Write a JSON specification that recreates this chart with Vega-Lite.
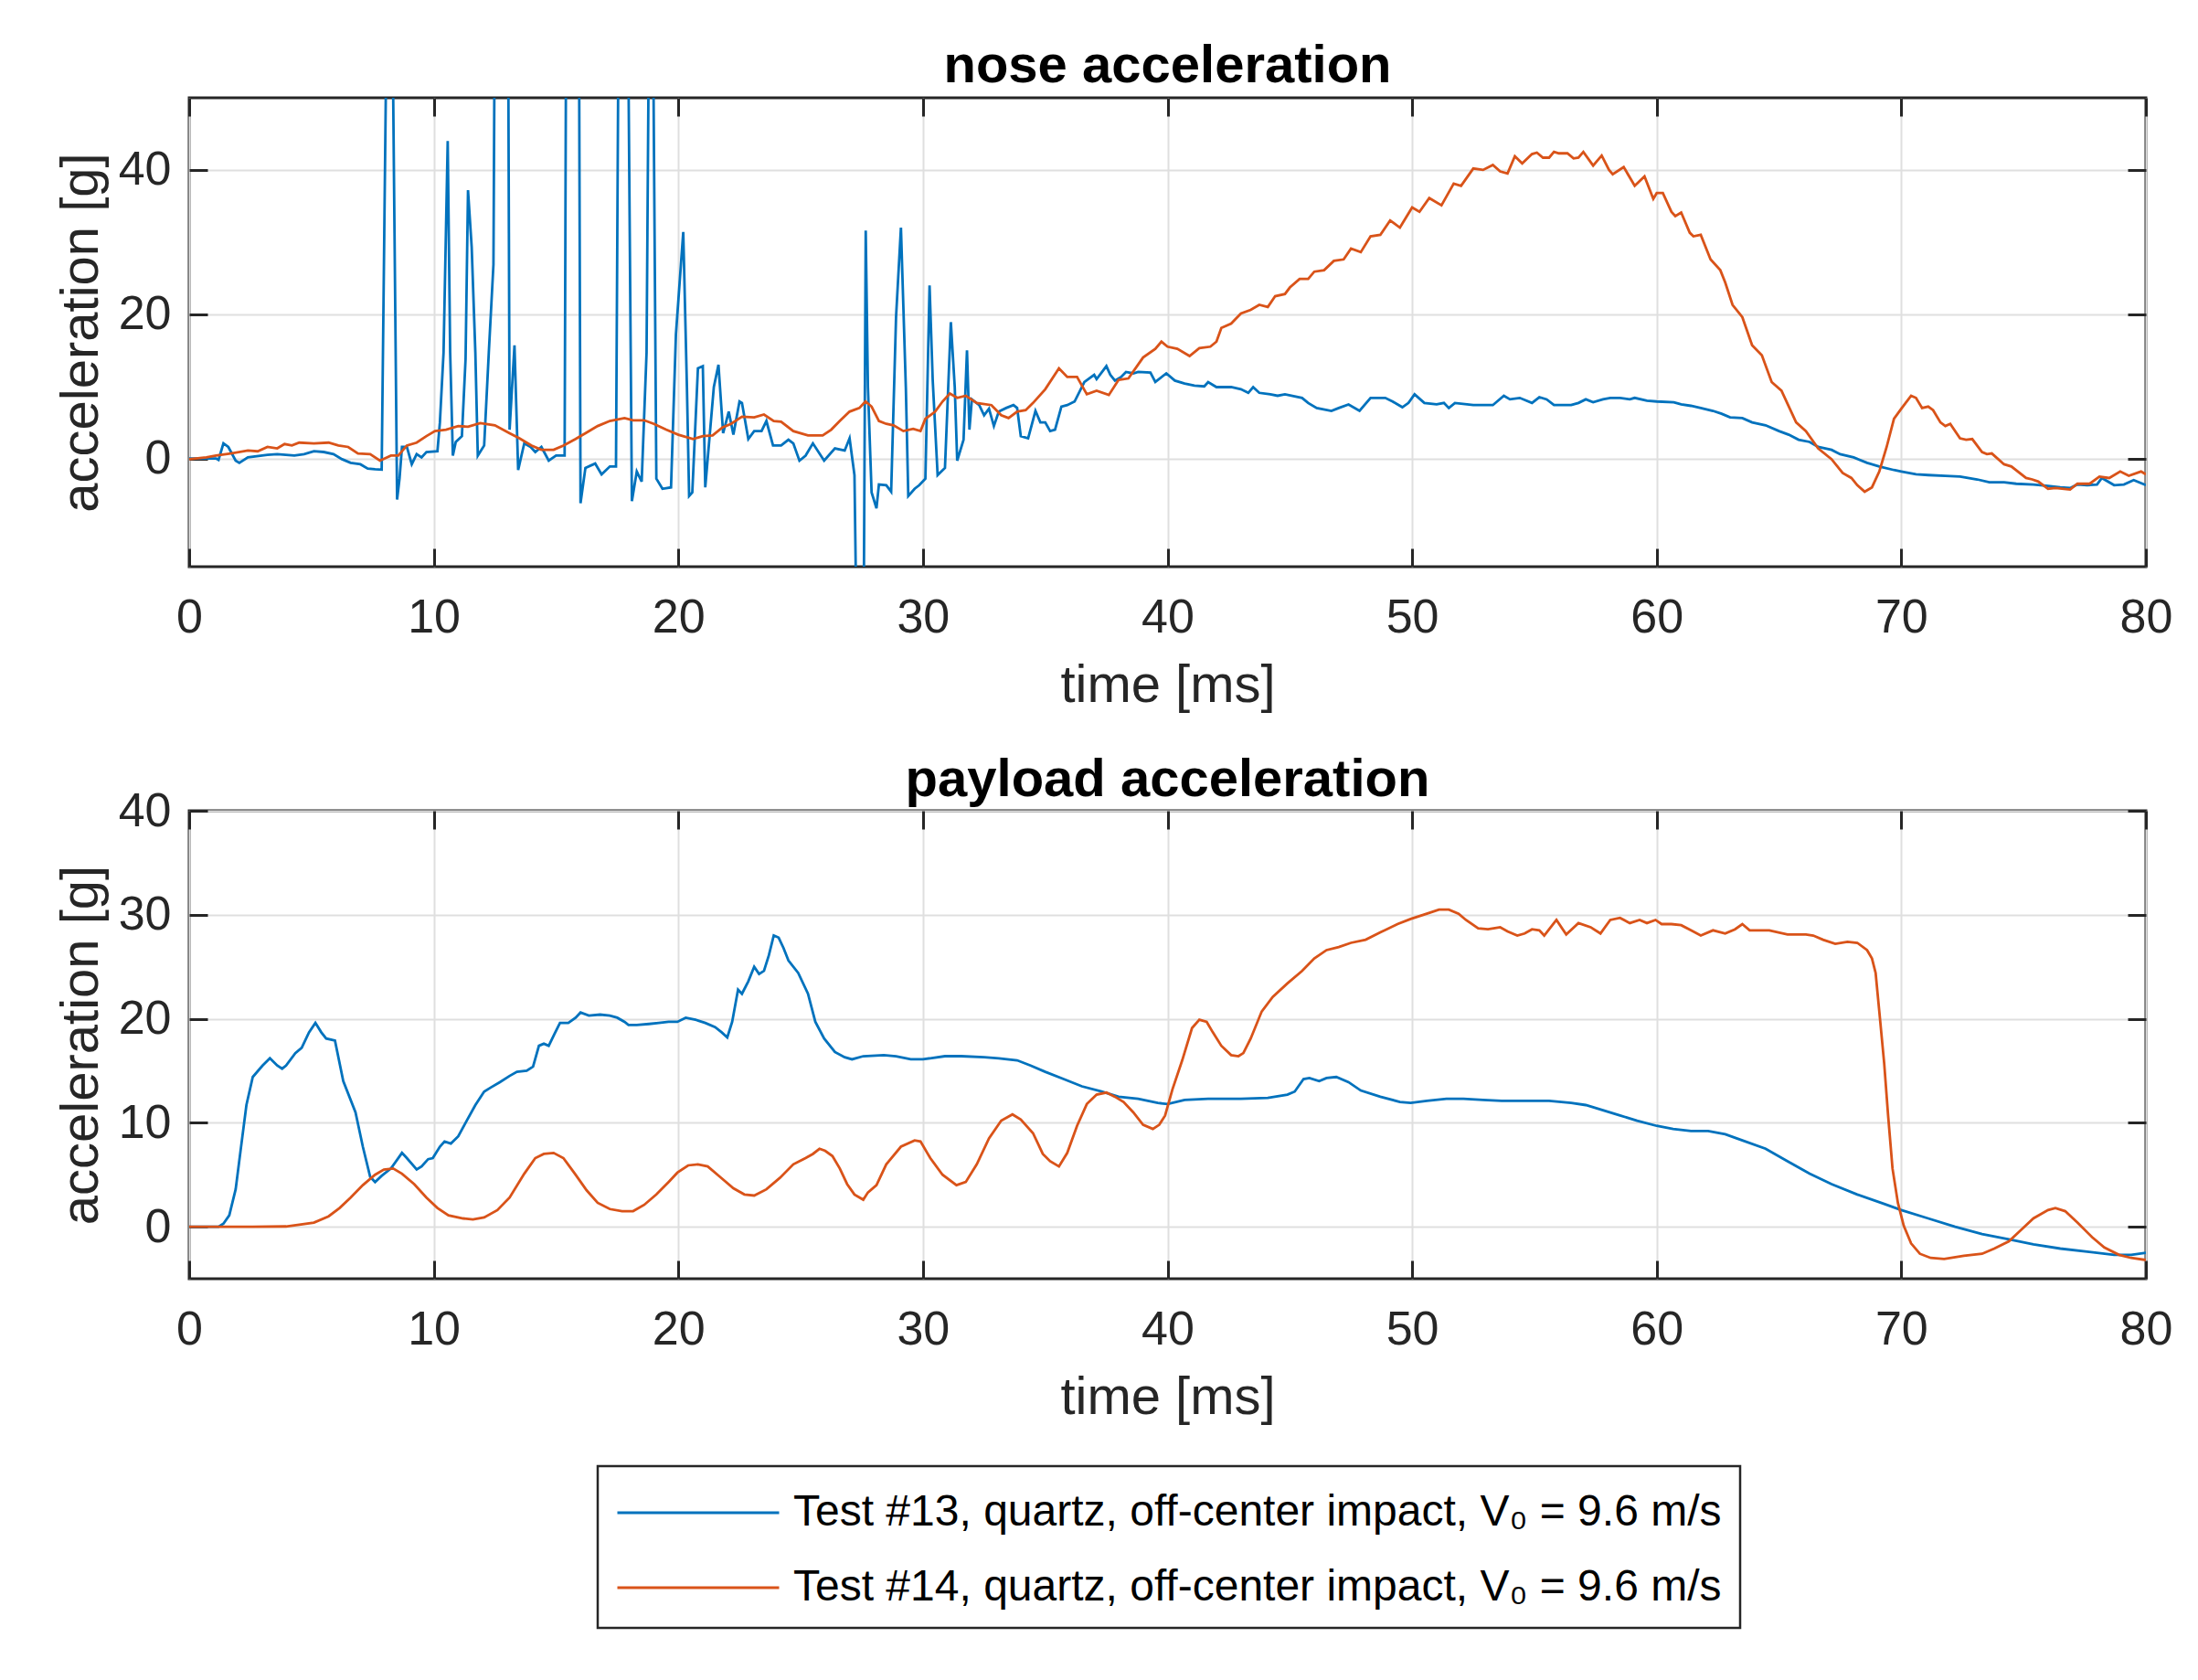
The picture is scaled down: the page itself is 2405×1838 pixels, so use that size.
{
"$schema": "https://vega.github.io/schema/vega-lite/v6.json",
"padding": {"left": 58, "top": 42, "right": 0, "bottom": 0},
"background": "white",
"spacing": 42,
"datasets": {
"nose": [
{"t":0,"a":0,"s":"13"},{"t":1.1,"a":0,"s":"13"},{"t":1.2,"a":-0.2,"s":"13"},{"t":1.4,"a":2.1,"s":"13"},{"t":1.6,"a":1.6,"s":"13"},{"t":1.9,"a":-0.3,"s":"13"},{"t":2.05,"a":-0.6,"s":"13"},{"t":2.4,"a":0.15,"s":"13"},{"t":3.2,"a":0.5,"s":"13"},{"t":3.6,"a":0.6,"s":"13"},{"t":4.3,"a":0.4,"s":"13"},{"t":4.7,"a":0.6,"s":"13"},{"t":5.1,"a":1.0,"s":"13"},{"t":5.5,"a":0.9,"s":"13"},{"t":5.9,"a":0.6,"s":"13"},{"t":6.25,"a":-0.1,"s":"13"},{"t":6.6,"a":-0.6,"s":"13"},{"t":7.0,"a":-0.8,"s":"13"},{"t":7.3,"a":-1.4,"s":"13"},{"t":7.6,"a":-1.5,"s":"13"},{"t":7.87,"a":-1.55,"s":"13"},{"t":8.2,"a":100,"s":"13"},{"t":8.5,"a":-5.7,"s":"13"},{"t":8.6,"a":-2.8,"s":"13"},{"t":8.7,"a":1.6,"s":"13"},{"t":8.9,"a":1.6,"s":"13"},{"t":9.1,"a":-0.8,"s":"13"},{"t":9.3,"a":0.6,"s":"13"},{"t":9.5,"a":0.15,"s":"13"},{"t":9.7,"a":0.9,"s":"13"},{"t":10.15,"a":1.0,"s":"13"},{"t":10.25,"a":5,"s":"13"},{"t":10.4,"a":14.7,"s":"13"},{"t":10.57,"a":44,"s":"13"},{"t":10.67,"a":14.7,"s":"13"},{"t":10.78,"a":0.4,"s":"13"},{"t":10.9,"a":2.3,"s":"13"},{"t":11.15,"a":3.1,"s":"13"},{"t":11.3,"a":13.8,"s":"13"},{"t":11.4,"a":37.2,"s":"13"},{"t":11.55,"a":29.3,"s":"13"},{"t":11.7,"a":14.7,"s":"13"},{"t":11.8,"a":0.4,"s":"13"},{"t":12.06,"a":1.8,"s":"13"},{"t":12.25,"a":14.7,"s":"13"},{"t":12.44,"a":26.9,"s":"13"},{"t":12.55,"a":100,"s":"13"},{"t":13.0,"a":100,"s":"13"},{"t":13.1,"a":4.0,"s":"13"},{"t":13.3,"a":15.7,"s":"13"},{"t":13.45,"a":-1.6,"s":"13"},{"t":13.7,"a":2.1,"s":"13"},{"t":13.96,"a":1.6,"s":"13"},{"t":14.15,"a":0.9,"s":"13"},{"t":14.4,"a":1.6,"s":"13"},{"t":14.7,"a":-0.3,"s":"13"},{"t":15.0,"a":0.4,"s":"13"},{"t":15.35,"a":0.4,"s":"13"},{"t":15.45,"a":100,"s":"13"},{"t":15.9,"a":100,"s":"13"},{"t":16.0,"a":-6.2,"s":"13"},{"t":16.2,"a":-1.3,"s":"13"},{"t":16.6,"a":-0.7,"s":"13"},{"t":16.86,"a":-2.2,"s":"13"},{"t":17.2,"a":-1.1,"s":"13"},{"t":17.45,"a":-1.1,"s":"13"},{"t":17.62,"a":100,"s":"13"},{"t":17.85,"a":100,"s":"13"},{"t":18.1,"a":-5.9,"s":"13"},{"t":18.3,"a":-1.8,"s":"13"},{"t":18.5,"a":-3.2,"s":"13"},{"t":18.7,"a":14.7,"s":"13"},{"t":18.88,"a":100,"s":"13"},{"t":19.1,"a":-2.8,"s":"13"},{"t":19.35,"a":-4.2,"s":"13"},{"t":19.7,"a":-4.0,"s":"13"},{"t":19.9,"a":17.2,"s":"13"},{"t":20.2,"a":31.4,"s":"13"},{"t":20.35,"a":9.9,"s":"13"},{"t":20.44,"a":-5.2,"s":"13"},{"t":20.57,"a":-4.7,"s":"13"},{"t":20.8,"a":12.5,"s":"13"},{"t":21.0,"a":12.8,"s":"13"},{"t":21.1,"a":-4.0,"s":"13"},{"t":21.45,"a":9.9,"s":"13"},{"t":21.64,"a":13.0,"s":"13"},{"t":21.83,"a":3.5,"s":"13"},{"t":22.06,"a":6.5,"s":"13"},{"t":22.25,"a":3.3,"s":"13"},{"t":22.5,"a":7.9,"s":"13"},{"t":22.6,"a":7.7,"s":"13"},{"t":22.86,"a":2.7,"s":"13"},{"t":23.1,"a":3.8,"s":"13"},{"t":23.4,"a":3.8,"s":"13"},{"t":23.6,"a":5.2,"s":"13"},{"t":23.87,"a":1.8,"s":"13"},{"t":24.2,"a":1.8,"s":"13"},{"t":24.5,"a":2.6,"s":"13"},{"t":24.7,"a":2.1,"s":"13"},{"t":24.95,"a":-0.3,"s":"13"},{"t":25.2,"a":0.4,"s":"13"},{"t":25.5,"a":2.1,"s":"13"},{"t":25.96,"a":-0.3,"s":"13"},{"t":26.4,"a":1.4,"s":"13"},{"t":26.8,"a":1.1,"s":"13"},{"t":27.0,"a":2.8,"s":"13"},{"t":27.2,"a":-2.3,"s":"13"},{"t":27.35,"a":-40,"s":"13"},{"t":27.55,"a":-40,"s":"13"},{"t":27.66,"a":31.6,"s":"13"},{"t":27.75,"a":9.9,"s":"13"},{"t":27.9,"a":-4.7,"s":"13"},{"t":28.1,"a":-6.9,"s":"13"},{"t":28.2,"a":-3.6,"s":"13"},{"t":28.5,"a":-3.7,"s":"13"},{"t":28.7,"a":-4.6,"s":"13"},{"t":28.9,"a":19.6,"s":"13"},{"t":29.1,"a":32,"s":"13"},{"t":29.3,"a":9.9,"s":"13"},{"t":29.4,"a":-5.2,"s":"13"},{"t":29.66,"a":-4.2,"s":"13"},{"t":29.85,"a":-3.7,"s":"13"},{"t":30.1,"a":-2.8,"s":"13"},{"t":30.27,"a":24,"s":"13"},{"t":30.4,"a":10.8,"s":"13"},{"t":30.6,"a":-2.3,"s":"13"},{"t":30.9,"a":-1.3,"s":"13"},{"t":31.14,"a":18.9,"s":"13"},{"t":31.3,"a":9.9,"s":"13"},{"t":31.4,"a":-0.3,"s":"13"},{"t":31.66,"a":2.6,"s":"13"},{"t":31.8,"a":15,"s":"13"},{"t":31.9,"a":4.0,"s":"13"},{"t":32.0,"a":8.2,"s":"13"},{"t":32.3,"a":7.4,"s":"13"},{"t":32.5,"a":6.0,"s":"13"},{"t":32.7,"a":6.9,"s":"13"},{"t":32.9,"a":4.5,"s":"13"},{"t":33.1,"a":6.5,"s":"13"},{"t":33.4,"a":7.0,"s":"13"},{"t":33.7,"a":7.4,"s":"13"},{"t":33.85,"a":7.0,"s":"13"},{"t":34.0,"a":3.1,"s":"13"},{"t":34.3,"a":2.8,"s":"13"},{"t":34.6,"a":6.6,"s":"13"},{"t":34.8,"a":5.0,"s":"13"},{"t":35.0,"a":5.0,"s":"13"},{"t":35.2,"a":3.8,"s":"13"},{"t":35.4,"a":4.0,"s":"13"},{"t":35.66,"a":7.2,"s":"13"},{"t":35.9,"a":7.4,"s":"13"},{"t":36.2,"a":7.9,"s":"13"},{"t":36.6,"a":10.6,"s":"13"},{"t":37.0,"a":11.6,"s":"13"},{"t":37.1,"a":11.0,"s":"13"},{"t":37.5,"a":12.8,"s":"13"},{"t":37.66,"a":11.6,"s":"13"},{"t":37.85,"a":10.8,"s":"13"},{"t":38.1,"a":11.3,"s":"13"},{"t":38.3,"a":12.0,"s":"13"},{"t":38.6,"a":11.8,"s":"13"},{"t":38.8,"a":12.0,"s":"13"},{"t":39.3,"a":11.9,"s":"13"},{"t":39.5,"a":10.6,"s":"13"},{"t":39.95,"a":11.8,"s":"13"},{"t":40.3,"a":10.8,"s":"13"},{"t":40.7,"a":10.4,"s":"13"},{"t":41.1,"a":10.1,"s":"13"},{"t":41.5,"a":10.0,"s":"13"},{"t":41.66,"a":10.6,"s":"13"},{"t":42.0,"a":9.9,"s":"13"},{"t":42.6,"a":9.9,"s":"13"},{"t":43.0,"a":9.6,"s":"13"},{"t":43.3,"a":9.1,"s":"13"},{"t":43.5,"a":9.9,"s":"13"},{"t":43.75,"a":9.1,"s":"13"},{"t":44.2,"a":8.9,"s":"13"},{"t":44.5,"a":8.7,"s":"13"},{"t":44.8,"a":8.9,"s":"13"},{"t":45.5,"a":8.4,"s":"13"},{"t":45.75,"a":7.7,"s":"13"},{"t":46.1,"a":7.0,"s":"13"},{"t":46.7,"a":6.6,"s":"13"},{"t":47.0,"a":7.0,"s":"13"},{"t":47.4,"a":7.5,"s":"13"},{"t":47.85,"a":6.6,"s":"13"},{"t":48.3,"a":8.4,"s":"13"},{"t":48.9,"a":8.4,"s":"13"},{"t":49.2,"a":7.9,"s":"13"},{"t":49.6,"a":7.1,"s":"13"},{"t":49.85,"a":7.7,"s":"13"},{"t":50.1,"a":8.9,"s":"13"},{"t":50.5,"a":7.7,"s":"13"},{"t":51.0,"a":7.5,"s":"13"},{"t":51.3,"a":7.7,"s":"13"},{"t":51.5,"a":7.0,"s":"13"},{"t":51.75,"a":7.7,"s":"13"},{"t":52.5,"a":7.4,"s":"13"},{"t":53.3,"a":7.4,"s":"13"},{"t":53.75,"a":8.7,"s":"13"},{"t":54.0,"a":8.2,"s":"13"},{"t":54.4,"a":8.4,"s":"13"},{"t":54.9,"a":7.7,"s":"13"},{"t":55.2,"a":8.5,"s":"13"},{"t":55.5,"a":8.2,"s":"13"},{"t":55.8,"a":7.4,"s":"13"},{"t":56.2,"a":7.4,"s":"13"},{"t":56.5,"a":7.4,"s":"13"},{"t":56.8,"a":7.7,"s":"13"},{"t":57.1,"a":8.2,"s":"13"},{"t":57.4,"a":7.8,"s":"13"},{"t":57.8,"a":8.2,"s":"13"},{"t":58.1,"a":8.4,"s":"13"},{"t":58.5,"a":8.4,"s":"13"},{"t":58.9,"a":8.2,"s":"13"},{"t":59.1,"a":8.4,"s":"13"},{"t":59.6,"a":8.0,"s":"13"},{"t":60.0,"a":7.9,"s":"13"},{"t":60.7,"a":7.8,"s":"13"},{"t":61.0,"a":7.5,"s":"13"},{"t":61.4,"a":7.3,"s":"13"},{"t":61.8,"a":7.0,"s":"13"},{"t":62.3,"a":6.6,"s":"13"},{"t":62.65,"a":6.2,"s":"13"},{"t":63.0,"a":5.7,"s":"13"},{"t":63.5,"a":5.6,"s":"13"},{"t":63.9,"a":5.0,"s":"13"},{"t":64.45,"a":4.6,"s":"13"},{"t":65.0,"a":3.8,"s":"13"},{"t":65.4,"a":3.3,"s":"13"},{"t":65.8,"a":2.6,"s":"13"},{"t":66.25,"a":2.3,"s":"13"},{"t":66.6,"a":1.6,"s":"13"},{"t":67.15,"a":1.2,"s":"13"},{"t":67.5,"a":0.6,"s":"13"},{"t":68.05,"a":0.15,"s":"13"},{"t":68.6,"a":-0.6,"s":"13"},{"t":69.1,"a":-1.1,"s":"13"},{"t":69.7,"a":-1.6,"s":"13"},{"t":70.0,"a":-1.8,"s":"13"},{"t":70.6,"a":-2.2,"s":"13"},{"t":71.1,"a":-2.3,"s":"13"},{"t":71.8,"a":-2.4,"s":"13"},{"t":72.4,"a":-2.5,"s":"13"},{"t":73.1,"a":-2.9,"s":"13"},{"t":73.6,"a":-3.3,"s":"13"},{"t":74.2,"a":-3.3,"s":"13"},{"t":74.7,"a":-3.5,"s":"13"},{"t":75.4,"a":-3.6,"s":"13"},{"t":76.0,"a":-3.8,"s":"13"},{"t":76.5,"a":-4.0,"s":"13"},{"t":76.9,"a":-4.1,"s":"13"},{"t":77.2,"a":-3.6,"s":"13"},{"t":77.6,"a":-3.7,"s":"13"},{"t":78.0,"a":-3.6,"s":"13"},{"t":78.2,"a":-2.7,"s":"13"},{"t":78.7,"a":-3.7,"s":"13"},{"t":79.1,"a":-3.6,"s":"13"},{"t":79.5,"a":-3.0,"s":"13"},{"t":80.0,"a":-3.7,"s":"13"},
{"t":0,"a":-0.1,"s":"14"},{"t":0.7,"a":0.15,"s":"14"},{"t":1.1,"a":0.4,"s":"14"},{"t":1.7,"a":0.7,"s":"14"},{"t":2.4,"a":1.1,"s":"14"},{"t":2.8,"a":1.0,"s":"14"},{"t":3.2,"a":1.6,"s":"14"},{"t":3.6,"a":1.4,"s":"14"},{"t":3.9,"a":2.0,"s":"14"},{"t":4.2,"a":1.8,"s":"14"},{"t":4.5,"a":2.2,"s":"14"},{"t":5.1,"a":2.1,"s":"14"},{"t":5.7,"a":2.2,"s":"14"},{"t":6.1,"a":1.8,"s":"14"},{"t":6.5,"a":1.6,"s":"14"},{"t":6.9,"a":0.7,"s":"14"},{"t":7.4,"a":0.6,"s":"14"},{"t":7.8,"a":-0.3,"s":"14"},{"t":8.25,"a":0.4,"s":"14"},{"t":8.55,"a":0.4,"s":"14"},{"t":8.9,"a":1.8,"s":"14"},{"t":9.3,"a":2.2,"s":"14"},{"t":9.7,"a":3.1,"s":"14"},{"t":10.05,"a":3.8,"s":"14"},{"t":10.5,"a":4.0,"s":"14"},{"t":11.0,"a":4.5,"s":"14"},{"t":11.4,"a":4.4,"s":"14"},{"t":11.9,"a":4.9,"s":"14"},{"t":12.5,"a":4.6,"s":"14"},{"t":13.1,"a":3.5,"s":"14"},{"t":13.5,"a":2.8,"s":"14"},{"t":14.0,"a":1.8,"s":"14"},{"t":14.4,"a":1.2,"s":"14"},{"t":14.9,"a":1.2,"s":"14"},{"t":15.3,"a":1.8,"s":"14"},{"t":15.8,"a":2.7,"s":"14"},{"t":16.2,"a":3.5,"s":"14"},{"t":16.7,"a":4.5,"s":"14"},{"t":17.2,"a":5.2,"s":"14"},{"t":17.8,"a":5.6,"s":"14"},{"t":18.15,"a":5.3,"s":"14"},{"t":18.6,"a":5.3,"s":"14"},{"t":19.0,"a":4.8,"s":"14"},{"t":19.5,"a":4.0,"s":"14"},{"t":20.0,"a":3.3,"s":"14"},{"t":20.6,"a":2.7,"s":"14"},{"t":21.0,"a":3.1,"s":"14"},{"t":21.4,"a":3.2,"s":"14"},{"t":21.8,"a":4.3,"s":"14"},{"t":22.15,"a":4.8,"s":"14"},{"t":22.6,"a":5.8,"s":"14"},{"t":23.1,"a":5.7,"s":"14"},{"t":23.5,"a":6.1,"s":"14"},{"t":23.9,"a":5.2,"s":"14"},{"t":24.2,"a":5.1,"s":"14"},{"t":24.7,"a":3.8,"s":"14"},{"t":25.3,"a":3.2,"s":"14"},{"t":25.9,"a":3.2,"s":"14"},{"t":26.25,"a":4.0,"s":"14"},{"t":26.6,"a":5.2,"s":"14"},{"t":27.0,"a":6.5,"s":"14"},{"t":27.4,"a":7.0,"s":"14"},{"t":27.65,"a":7.9,"s":"14"},{"t":27.9,"a":7.2,"s":"14"},{"t":28.2,"a":5.2,"s":"14"},{"t":28.5,"a":4.8,"s":"14"},{"t":28.8,"a":4.6,"s":"14"},{"t":29.2,"a":3.8,"s":"14"},{"t":29.6,"a":4.1,"s":"14"},{"t":29.9,"a":3.8,"s":"14"},{"t":30.1,"a":5.5,"s":"14"},{"t":30.5,"a":6.5,"s":"14"},{"t":30.8,"a":7.9,"s":"14"},{"t":31.1,"a":9.0,"s":"14"},{"t":31.4,"a":8.4,"s":"14"},{"t":31.75,"a":8.7,"s":"14"},{"t":32.2,"a":7.7,"s":"14"},{"t":32.8,"a":7.4,"s":"14"},{"t":33.2,"a":6.0,"s":"14"},{"t":33.5,"a":5.6,"s":"14"},{"t":33.85,"a":6.5,"s":"14"},{"t":34.2,"a":6.7,"s":"14"},{"t":34.5,"a":7.7,"s":"14"},{"t":35.0,"a":9.6,"s":"14"},{"t":35.56,"a":12.5,"s":"14"},{"t":35.9,"a":11.3,"s":"14"},{"t":36.3,"a":11.3,"s":"14"},{"t":36.7,"a":8.9,"s":"14"},{"t":37.1,"a":9.4,"s":"14"},{"t":37.6,"a":8.8,"s":"14"},{"t":38.0,"a":10.9,"s":"14"},{"t":38.4,"a":11.1,"s":"14"},{"t":39.0,"a":14.0,"s":"14"},{"t":39.5,"a":15.2,"s":"14"},{"t":39.75,"a":16.2,"s":"14"},{"t":40.0,"a":15.5,"s":"14"},{"t":40.4,"a":15.2,"s":"14"},{"t":40.9,"a":14.2,"s":"14"},{"t":41.3,"a":15.3,"s":"14"},{"t":41.75,"a":15.5,"s":"14"},{"t":42.0,"a":16.2,"s":"14"},{"t":42.2,"a":18.1,"s":"14"},{"t":42.6,"a":18.7,"s":"14"},{"t":43.0,"a":20.1,"s":"14"},{"t":43.4,"a":20.6,"s":"14"},{"t":43.75,"a":21.3,"s":"14"},{"t":44.1,"a":21.0,"s":"14"},{"t":44.4,"a":22.5,"s":"14"},{"t":44.8,"a":22.8,"s":"14"},{"t":45.0,"a":23.7,"s":"14"},{"t":45.4,"a":24.9,"s":"14"},{"t":45.75,"a":24.9,"s":"14"},{"t":46.0,"a":25.9,"s":"14"},{"t":46.4,"a":26.1,"s":"14"},{"t":46.8,"a":27.4,"s":"14"},{"t":47.2,"a":27.6,"s":"14"},{"t":47.5,"a":29.1,"s":"14"},{"t":47.9,"a":28.6,"s":"14"},{"t":48.3,"a":30.8,"s":"14"},{"t":48.7,"a":31.0,"s":"14"},{"t":49.1,"a":33.0,"s":"14"},{"t":49.5,"a":32.0,"s":"14"},{"t":50.0,"a":34.8,"s":"14"},{"t":50.3,"a":34.2,"s":"14"},{"t":50.7,"a":36.1,"s":"14"},{"t":51.2,"a":35.1,"s":"14"},{"t":51.7,"a":38.1,"s":"14"},{"t":52.0,"a":37.8,"s":"14"},{"t":52.5,"a":40.2,"s":"14"},{"t":52.9,"a":40.0,"s":"14"},{"t":53.3,"a":40.7,"s":"14"},{"t":53.6,"a":39.8,"s":"14"},{"t":53.9,"a":39.5,"s":"14"},{"t":54.2,"a":41.9,"s":"14"},{"t":54.5,"a":40.9,"s":"14"},{"t":54.9,"a":42.2,"s":"14"},{"t":55.1,"a":42.4,"s":"14"},{"t":55.35,"a":41.7,"s":"14"},{"t":55.6,"a":41.7,"s":"14"},{"t":55.8,"a":42.5,"s":"14"},{"t":56.0,"a":42.3,"s":"14"},{"t":56.35,"a":42.3,"s":"14"},{"t":56.6,"a":41.6,"s":"14"},{"t":56.8,"a":41.7,"s":"14"},{"t":57.0,"a":42.5,"s":"14"},{"t":57.4,"a":40.6,"s":"14"},{"t":57.75,"a":42.0,"s":"14"},{"t":58.05,"a":40.0,"s":"14"},{"t":58.2,"a":39.4,"s":"14"},{"t":58.65,"a":40.4,"s":"14"},{"t":59.1,"a":37.8,"s":"14"},{"t":59.5,"a":39.1,"s":"14"},{"t":59.86,"a":36.0,"s":"14"},{"t":60.0,"a":36.8,"s":"14"},{"t":60.25,"a":36.8,"s":"14"},{"t":60.6,"a":34.2,"s":"14"},{"t":60.76,"a":33.6,"s":"14"},{"t":61.0,"a":34.1,"s":"14"},{"t":61.35,"a":31.3,"s":"14"},{"t":61.5,"a":30.8,"s":"14"},{"t":61.8,"a":31.0,"s":"14"},{"t":62.2,"a":27.6,"s":"14"},{"t":62.6,"a":26.1,"s":"14"},{"t":62.8,"a":24.4,"s":"14"},{"t":63.1,"a":21.3,"s":"14"},{"t":63.5,"a":19.6,"s":"14"},{"t":63.9,"a":15.7,"s":"14"},{"t":64.3,"a":14.3,"s":"14"},{"t":64.7,"a":10.6,"s":"14"},{"t":65.1,"a":9.4,"s":"14"},{"t":65.7,"a":5.0,"s":"14"},{"t":66.1,"a":3.8,"s":"14"},{"t":66.6,"a":1.4,"s":"14"},{"t":67.15,"a":-0.1,"s":"14"},{"t":67.6,"a":-2.0,"s":"14"},{"t":67.96,"a":-2.7,"s":"14"},{"t":68.2,"a":-3.7,"s":"14"},{"t":68.5,"a":-4.6,"s":"14"},{"t":68.8,"a":-4.0,"s":"14"},{"t":69.1,"a":-1.8,"s":"14"},{"t":69.4,"a":1.6,"s":"14"},{"t":69.7,"a":5.5,"s":"14"},{"t":70.0,"a":6.9,"s":"14"},{"t":70.4,"a":8.7,"s":"14"},{"t":70.6,"a":8.4,"s":"14"},{"t":70.85,"a":7.0,"s":"14"},{"t":71.1,"a":7.2,"s":"14"},{"t":71.3,"a":6.7,"s":"14"},{"t":71.6,"a":5.0,"s":"14"},{"t":71.8,"a":4.5,"s":"14"},{"t":72.0,"a":4.8,"s":"14"},{"t":72.4,"a":2.8,"s":"14"},{"t":72.65,"a":2.6,"s":"14"},{"t":72.9,"a":2.7,"s":"14"},{"t":73.3,"a":0.9,"s":"14"},{"t":73.5,"a":0.6,"s":"14"},{"t":73.7,"a":0.7,"s":"14"},{"t":74.2,"a":-0.8,"s":"14"},{"t":74.5,"a":-1.1,"s":"14"},{"t":75.1,"a":-2.7,"s":"14"},{"t":75.35,"a":-2.9,"s":"14"},{"t":75.6,"a":-3.2,"s":"14"},{"t":76.0,"a":-4.2,"s":"14"},{"t":76.3,"a":-4.1,"s":"14"},{"t":76.9,"a":-4.3,"s":"14"},{"t":77.2,"a":-3.5,"s":"14"},{"t":77.7,"a":-3.5,"s":"14"},{"t":78.1,"a":-2.5,"s":"14"},{"t":78.5,"a":-2.7,"s":"14"},{"t":78.95,"a":-1.8,"s":"14"},{"t":79.3,"a":-2.4,"s":"14"},{"t":79.8,"a":-1.8,"s":"14"},{"t":80.0,"a":-2.2,"s":"14"}
],
"payload": [
{"t":0,"a":0,"s":"13"},{"t":1.2,"a":0,"s":"13"},{"t":1.4,"a":0.3,"s":"13"},{"t":1.64,"a":1.1,"s":"13"},{"t":1.9,"a":3.6,"s":"13"},{"t":2.1,"a":7.3,"s":"13"},{"t":2.34,"a":11.7,"s":"13"},{"t":2.6,"a":14.4,"s":"13"},{"t":3.0,"a":15.5,"s":"13"},{"t":3.3,"a":16.2,"s":"13"},{"t":3.6,"a":15.5,"s":"13"},{"t":3.8,"a":15.2,"s":"13"},{"t":3.96,"a":15.5,"s":"13"},{"t":4.34,"a":16.7,"s":"13"},{"t":4.6,"a":17.2,"s":"13"},{"t":4.9,"a":18.7,"s":"13"},{"t":5.16,"a":19.6,"s":"13"},{"t":5.4,"a":18.7,"s":"13"},{"t":5.6,"a":18.1,"s":"13"},{"t":5.96,"a":17.9,"s":"13"},{"t":6.3,"a":14.0,"s":"13"},{"t":6.8,"a":11.0,"s":"13"},{"t":7.1,"a":7.7,"s":"13"},{"t":7.4,"a":4.8,"s":"13"},{"t":7.6,"a":4.3,"s":"13"},{"t":7.87,"a":4.9,"s":"13"},{"t":8.25,"a":5.6,"s":"13"},{"t":8.7,"a":7.1,"s":"13"},{"t":8.9,"a":6.6,"s":"13"},{"t":9.3,"a":5.5,"s":"13"},{"t":9.5,"a":5.8,"s":"13"},{"t":9.77,"a":6.5,"s":"13"},{"t":9.96,"a":6.6,"s":"13"},{"t":10.25,"a":7.7,"s":"13"},{"t":10.44,"a":8.2,"s":"13"},{"t":10.7,"a":8.0,"s":"13"},{"t":11.0,"a":8.7,"s":"13"},{"t":11.3,"a":10.0,"s":"13"},{"t":11.7,"a":11.7,"s":"13"},{"t":12.06,"a":13.0,"s":"13"},{"t":12.34,"a":13.4,"s":"13"},{"t":12.7,"a":13.9,"s":"13"},{"t":13.1,"a":14.5,"s":"13"},{"t":13.4,"a":14.9,"s":"13"},{"t":13.8,"a":15.0,"s":"13"},{"t":14.06,"a":15.4,"s":"13"},{"t":14.3,"a":17.4,"s":"13"},{"t":14.5,"a":17.6,"s":"13"},{"t":14.7,"a":17.4,"s":"13"},{"t":14.95,"a":18.6,"s":"13"},{"t":15.16,"a":19.6,"s":"13"},{"t":15.5,"a":19.6,"s":"13"},{"t":15.8,"a":20.1,"s":"13"},{"t":16.0,"a":20.6,"s":"13"},{"t":16.34,"a":20.3,"s":"13"},{"t":16.8,"a":20.4,"s":"13"},{"t":17.2,"a":20.3,"s":"13"},{"t":17.5,"a":20.1,"s":"13"},{"t":17.8,"a":19.7,"s":"13"},{"t":17.96,"a":19.4,"s":"13"},{"t":18.3,"a":19.4,"s":"13"},{"t":18.8,"a":19.5,"s":"13"},{"t":19.2,"a":19.6,"s":"13"},{"t":19.6,"a":19.7,"s":"13"},{"t":19.96,"a":19.7,"s":"13"},{"t":20.3,"a":20.1,"s":"13"},{"t":20.7,"a":19.9,"s":"13"},{"t":21.1,"a":19.6,"s":"13"},{"t":21.5,"a":19.2,"s":"13"},{"t":21.77,"a":18.7,"s":"13"},{"t":22.0,"a":18.2,"s":"13"},{"t":22.2,"a":19.7,"s":"13"},{"t":22.44,"a":22.8,"s":"13"},{"t":22.6,"a":22.4,"s":"13"},{"t":22.86,"a":23.6,"s":"13"},{"t":23.1,"a":25.0,"s":"13"},{"t":23.3,"a":24.3,"s":"13"},{"t":23.5,"a":24.6,"s":"13"},{"t":23.7,"a":26.1,"s":"13"},{"t":23.9,"a":28.0,"s":"13"},{"t":24.1,"a":27.8,"s":"13"},{"t":24.3,"a":26.8,"s":"13"},{"t":24.5,"a":25.6,"s":"13"},{"t":24.9,"a":24.4,"s":"13"},{"t":25.3,"a":22.4,"s":"13"},{"t":25.6,"a":19.7,"s":"13"},{"t":25.96,"a":18.1,"s":"13"},{"t":26.4,"a":16.8,"s":"13"},{"t":26.8,"a":16.3,"s":"13"},{"t":27.1,"a":16.1,"s":"13"},{"t":27.56,"a":16.4,"s":"13"},{"t":28.4,"a":16.5,"s":"13"},{"t":28.9,"a":16.4,"s":"13"},{"t":29.5,"a":16.1,"s":"13"},{"t":30.0,"a":16.1,"s":"13"},{"t":30.9,"a":16.4,"s":"13"},{"t":31.56,"a":16.4,"s":"13"},{"t":32.5,"a":16.3,"s":"13"},{"t":33.1,"a":16.2,"s":"13"},{"t":33.85,"a":16.0,"s":"13"},{"t":34.4,"a":15.5,"s":"13"},{"t":35.0,"a":14.9,"s":"13"},{"t":35.75,"a":14.2,"s":"13"},{"t":36.5,"a":13.5,"s":"13"},{"t":37.3,"a":13.0,"s":"13"},{"t":38.0,"a":12.5,"s":"13"},{"t":38.8,"a":12.3,"s":"13"},{"t":39.6,"a":11.9,"s":"13"},{"t":40.0,"a":11.8,"s":"13"},{"t":40.7,"a":12.2,"s":"13"},{"t":41.66,"a":12.3,"s":"13"},{"t":43.0,"a":12.3,"s":"13"},{"t":44.1,"a":12.4,"s":"13"},{"t":44.9,"a":12.7,"s":"13"},{"t":45.2,"a":13.0,"s":"13"},{"t":45.56,"a":14.2,"s":"13"},{"t":45.8,"a":14.3,"s":"13"},{"t":46.2,"a":14.0,"s":"13"},{"t":46.5,"a":14.3,"s":"13"},{"t":46.9,"a":14.4,"s":"13"},{"t":47.4,"a":13.9,"s":"13"},{"t":47.9,"a":13.1,"s":"13"},{"t":48.7,"a":12.5,"s":"13"},{"t":49.5,"a":12.0,"s":"13"},{"t":49.94,"a":11.9,"s":"13"},{"t":50.6,"a":12.1,"s":"13"},{"t":51.4,"a":12.3,"s":"13"},{"t":52.1,"a":12.3,"s":"13"},{"t":52.9,"a":12.2,"s":"13"},{"t":53.66,"a":12.1,"s":"13"},{"t":54.4,"a":12.1,"s":"13"},{"t":55.6,"a":12.1,"s":"13"},{"t":56.5,"a":11.9,"s":"13"},{"t":57.1,"a":11.7,"s":"13"},{"t":57.8,"a":11.2,"s":"13"},{"t":58.5,"a":10.7,"s":"13"},{"t":59.2,"a":10.2,"s":"13"},{"t":60.0,"a":9.7,"s":"13"},{"t":60.67,"a":9.4,"s":"13"},{"t":61.4,"a":9.2,"s":"13"},{"t":62.1,"a":9.2,"s":"13"},{"t":62.8,"a":8.9,"s":"13"},{"t":63.5,"a":8.3,"s":"13"},{"t":64.45,"a":7.5,"s":"13"},{"t":65.35,"a":6.3,"s":"13"},{"t":66.25,"a":5.1,"s":"13"},{"t":67.15,"a":4.1,"s":"13"},{"t":68.2,"a":3.1,"s":"13"},{"t":69.3,"a":2.2,"s":"13"},{"t":70.0,"a":1.6,"s":"13"},{"t":71.1,"a":0.8,"s":"13"},{"t":72.2,"a":0.0,"s":"13"},{"t":73.3,"a":-0.7,"s":"13"},{"t":74.4,"a":-1.2,"s":"13"},{"t":75.4,"a":-1.7,"s":"13"},{"t":76.5,"a":-2.1,"s":"13"},{"t":77.6,"a":-2.4,"s":"13"},{"t":78.7,"a":-2.7,"s":"13"},{"t":79.4,"a":-2.7,"s":"13"},{"t":80.0,"a":-2.5,"s":"13"},
{"t":0,"a":0,"s":"14"},{"t":2.6,"a":0,"s":"14"},{"t":3.96,"a":0.03,"s":"14"},{"t":4.5,"a":0.2,"s":"14"},{"t":5.1,"a":0.4,"s":"14"},{"t":5.7,"a":1.0,"s":"14"},{"t":6.15,"a":1.8,"s":"14"},{"t":6.6,"a":2.8,"s":"14"},{"t":7.1,"a":4.0,"s":"14"},{"t":7.6,"a":5.0,"s":"14"},{"t":7.96,"a":5.5,"s":"14"},{"t":8.34,"a":5.6,"s":"14"},{"t":8.7,"a":5.1,"s":"14"},{"t":9.2,"a":4.1,"s":"14"},{"t":9.7,"a":2.8,"s":"14"},{"t":10.15,"a":1.8,"s":"14"},{"t":10.6,"a":1.1,"s":"14"},{"t":11.2,"a":0.8,"s":"14"},{"t":11.6,"a":0.7,"s":"14"},{"t":12.06,"a":0.9,"s":"14"},{"t":12.6,"a":1.6,"s":"14"},{"t":13.1,"a":2.8,"s":"14"},{"t":13.7,"a":5.1,"s":"14"},{"t":14.15,"a":6.6,"s":"14"},{"t":14.5,"a":7.0,"s":"14"},{"t":14.9,"a":7.1,"s":"14"},{"t":15.3,"a":6.6,"s":"14"},{"t":15.77,"a":5.1,"s":"14"},{"t":16.25,"a":3.5,"s":"14"},{"t":16.7,"a":2.3,"s":"14"},{"t":17.2,"a":1.7,"s":"14"},{"t":17.7,"a":1.5,"s":"14"},{"t":18.15,"a":1.5,"s":"14"},{"t":18.6,"a":2.1,"s":"14"},{"t":19.1,"a":3.1,"s":"14"},{"t":19.6,"a":4.3,"s":"14"},{"t":19.96,"a":5.2,"s":"14"},{"t":20.4,"a":5.9,"s":"14"},{"t":20.8,"a":6.0,"s":"14"},{"t":21.2,"a":5.8,"s":"14"},{"t":21.7,"a":4.8,"s":"14"},{"t":22.25,"a":3.7,"s":"14"},{"t":22.7,"a":3.1,"s":"14"},{"t":23.1,"a":3.0,"s":"14"},{"t":23.6,"a":3.6,"s":"14"},{"t":24.15,"a":4.7,"s":"14"},{"t":24.7,"a":6.0,"s":"14"},{"t":25.2,"a":6.6,"s":"14"},{"t":25.5,"a":7.0,"s":"14"},{"t":25.77,"a":7.5,"s":"14"},{"t":26.0,"a":7.3,"s":"14"},{"t":26.3,"a":6.8,"s":"14"},{"t":26.6,"a":5.6,"s":"14"},{"t":26.9,"a":4.1,"s":"14"},{"t":27.2,"a":3.1,"s":"14"},{"t":27.56,"a":2.6,"s":"14"},{"t":27.75,"a":3.3,"s":"14"},{"t":28.1,"a":4.0,"s":"14"},{"t":28.5,"a":6.0,"s":"14"},{"t":29.1,"a":7.7,"s":"14"},{"t":29.66,"a":8.3,"s":"14"},{"t":29.9,"a":8.2,"s":"14"},{"t":30.3,"a":6.6,"s":"14"},{"t":30.8,"a":5.0,"s":"14"},{"t":31.37,"a":4.0,"s":"14"},{"t":31.75,"a":4.3,"s":"14"},{"t":32.2,"a":6.0,"s":"14"},{"t":32.7,"a":8.5,"s":"14"},{"t":33.2,"a":10.2,"s":"14"},{"t":33.66,"a":10.8,"s":"14"},{"t":34.0,"a":10.3,"s":"14"},{"t":34.5,"a":9.0,"s":"14"},{"t":34.9,"a":7.0,"s":"14"},{"t":35.2,"a":6.3,"s":"14"},{"t":35.56,"a":5.8,"s":"14"},{"t":35.9,"a":7.1,"s":"14"},{"t":36.3,"a":9.7,"s":"14"},{"t":36.7,"a":11.8,"s":"14"},{"t":37.1,"a":12.7,"s":"14"},{"t":37.5,"a":12.9,"s":"14"},{"t":37.85,"a":12.5,"s":"14"},{"t":38.2,"a":12.0,"s":"14"},{"t":38.6,"a":11.0,"s":"14"},{"t":39.0,"a":9.8,"s":"14"},{"t":39.4,"a":9.4,"s":"14"},{"t":39.66,"a":9.8,"s":"14"},{"t":39.9,"a":10.7,"s":"14"},{"t":40.2,"a":13.2,"s":"14"},{"t":40.6,"a":16.0,"s":"14"},{"t":41.0,"a":19.1,"s":"14"},{"t":41.3,"a":19.9,"s":"14"},{"t":41.6,"a":19.7,"s":"14"},{"t":41.85,"a":18.7,"s":"14"},{"t":42.2,"a":17.4,"s":"14"},{"t":42.6,"a":16.5,"s":"14"},{"t":42.9,"a":16.4,"s":"14"},{"t":43.1,"a":16.7,"s":"14"},{"t":43.4,"a":18.1,"s":"14"},{"t":43.85,"a":20.7,"s":"14"},{"t":44.3,"a":22.1,"s":"14"},{"t":44.9,"a":23.4,"s":"14"},{"t":45.5,"a":24.6,"s":"14"},{"t":46.0,"a":25.8,"s":"14"},{"t":46.5,"a":26.6,"s":"14"},{"t":47.0,"a":26.9,"s":"14"},{"t":47.5,"a":27.3,"s":"14"},{"t":48.1,"a":27.6,"s":"14"},{"t":48.7,"a":28.3,"s":"14"},{"t":49.4,"a":29.1,"s":"14"},{"t":49.94,"a":29.6,"s":"14"},{"t":50.6,"a":30.1,"s":"14"},{"t":51.1,"a":30.5,"s":"14"},{"t":51.5,"a":30.5,"s":"14"},{"t":51.9,"a":30.1,"s":"14"},{"t":52.2,"a":29.5,"s":"14"},{"t":52.7,"a":28.7,"s":"14"},{"t":53.1,"a":28.6,"s":"14"},{"t":53.6,"a":28.8,"s":"14"},{"t":53.9,"a":28.4,"s":"14"},{"t":54.3,"a":28.0,"s":"14"},{"t":54.6,"a":28.2,"s":"14"},{"t":54.9,"a":28.6,"s":"14"},{"t":55.2,"a":28.5,"s":"14"},{"t":55.4,"a":28.0,"s":"14"},{"t":55.9,"a":29.5,"s":"14"},{"t":56.3,"a":28.1,"s":"14"},{"t":56.8,"a":29.2,"s":"14"},{"t":57.3,"a":28.8,"s":"14"},{"t":57.7,"a":28.2,"s":"14"},{"t":58.1,"a":29.5,"s":"14"},{"t":58.5,"a":29.7,"s":"14"},{"t":58.9,"a":29.2,"s":"14"},{"t":59.3,"a":29.5,"s":"14"},{"t":59.6,"a":29.2,"s":"14"},{"t":59.95,"a":29.5,"s":"14"},{"t":60.2,"a":29.1,"s":"14"},{"t":60.6,"a":29.1,"s":"14"},{"t":61.0,"a":29.0,"s":"14"},{"t":61.4,"a":28.5,"s":"14"},{"t":61.8,"a":28.0,"s":"14"},{"t":62.3,"a":28.5,"s":"14"},{"t":62.8,"a":28.2,"s":"14"},{"t":63.2,"a":28.6,"s":"14"},{"t":63.5,"a":29.1,"s":"14"},{"t":63.8,"a":28.5,"s":"14"},{"t":64.6,"a":28.5,"s":"14"},{"t":65.35,"a":28.1,"s":"14"},{"t":66.1,"a":28.1,"s":"14"},{"t":66.4,"a":28.0,"s":"14"},{"t":66.8,"a":27.6,"s":"14"},{"t":67.3,"a":27.2,"s":"14"},{"t":67.8,"a":27.4,"s":"14"},{"t":68.2,"a":27.3,"s":"14"},{"t":68.6,"a":26.6,"s":"14"},{"t":68.8,"a":25.8,"s":"14"},{"t":68.95,"a":24.4,"s":"14"},{"t":69.1,"a":20.7,"s":"14"},{"t":69.3,"a":15.7,"s":"14"},{"t":69.46,"a":10.7,"s":"14"},{"t":69.64,"a":5.6,"s":"14"},{"t":69.86,"a":2.3,"s":"14"},{"t":70.1,"a":0.1,"s":"14"},{"t":70.4,"a":-1.6,"s":"14"},{"t":70.76,"a":-2.6,"s":"14"},{"t":71.2,"a":-3.0,"s":"14"},{"t":71.75,"a":-3.1,"s":"14"},{"t":72.56,"a":-2.8,"s":"14"},{"t":73.3,"a":-2.6,"s":"14"},{"t":73.8,"a":-2.1,"s":"14"},{"t":74.4,"a":-1.4,"s":"14"},{"t":74.9,"a":-0.3,"s":"14"},{"t":75.4,"a":0.8,"s":"14"},{"t":76.0,"a":1.6,"s":"14"},{"t":76.3,"a":1.8,"s":"14"},{"t":76.7,"a":1.5,"s":"14"},{"t":77.2,"a":0.4,"s":"14"},{"t":77.8,"a":-1.0,"s":"14"},{"t":78.3,"a":-2.0,"s":"14"},{"t":78.9,"a":-2.7,"s":"14"},{"t":79.4,"a":-3.0,"s":"14"},{"t":80.0,"a":-3.2,"s":"14"}
]
},
"vconcat": [
{
"width": 2141, "height": 513,
"title": {"text": "nose acceleration", "offset": 4},
"data": {"name": "nose"},
"layer": [
{"mark": {"type": "line", "clip": true, "strokeWidth": 2.8},
 "encoding": {
  "x": {"field": "t", "type": "quantitative", "scale": {"domain": [0, 80], "nice": false, "zero": false},
        "axis": {"title": "time [ms]", "values": [0,10,20,30,40,50,60,70,80], "grid": true, "labelFlush": false, "labelBaseline": "alphabetic", "labelPadding": 91, "titlePadding": 20}},
  "y": {"field": "a", "type": "quantitative", "scale": {"domain": [-15, 50], "nice": false, "zero": false},
        "axis": {"title": "acceleration [g]", "values": [0, 20, 40], "grid": true, "labelFlush": false, "labelPadding": 40, "titlePadding": 11}},
  "color": {"field": "s", "type": "nominal", "scale": {"domain": ["13", "14"], "range": ["#0072BD", "#D95319"]},
        "legend": {"orient": "none", "legendX": 447, "legendY": 1497, "title": null,
                   "labelExpr": "'Test #' + datum.label + ', quartz, off-center impact, V\u2080 = 9.6 m/s'",
                   "encode": {"legend": {"update": {"strokeWidth": {"value": 2.5}}}}}}
 }},
{"mark": {"type": "line", "strokeOpacity": 0, "clip": true},
 "encoding": {
  "x": {"field": "t", "type": "quantitative", "axis": {"orient": "top", "labels": false, "title": null, "grid": false, "values": [0,10,20,30,40,50,60,70,80]}},
  "y": {"field": "a", "type": "quantitative", "axis": {"orient": "right", "labels": false, "title": null, "grid": false, "values": [0, 20, 40]}}
 }}
],
"resolve": {"axis": {"x": "independent", "y": "independent"}}
},
{
"width": 2141, "height": 512,
"title": {"text": "payload acceleration", "offset": -22},
"data": {"name": "payload"},
"layer": [
{"mark": {"type": "line", "clip": true, "strokeWidth": 2.8},
 "encoding": {
  "x": {"field": "t", "type": "quantitative", "scale": {"domain": [0, 80], "nice": false, "zero": false},
        "axis": {"title": "time [ms]", "values": [0,10,20,30,40,50,60,70,80], "grid": true, "labelFlush": false, "labelBaseline": "alphabetic", "labelPadding": 91, "titlePadding": 20}},
  "y": {"field": "a", "type": "quantitative", "scale": {"domain": [-5, 40], "nice": false, "zero": false},
        "axis": {"title": "acceleration [g]", "values": [0, 10, 20, 30, 40], "grid": true, "labelFlush": false, "labelPadding": 40, "titlePadding": 11}},
  "color": {"field": "s", "type": "nominal", "scale": {"domain": ["13", "14"], "range": ["#0072BD", "#D95319"]},
        "legend": {"orient": "none", "legendX": 447, "legendY": 1497, "title": null,
                   "labelExpr": "'Test #' + datum.label + ', quartz, off-center impact, V\u2080 = 9.6 m/s'",
                   "encode": {"legend": {"update": {"strokeWidth": {"value": 2.5}}}}}}
 }},
{"mark": {"type": "line", "strokeOpacity": 0, "clip": true},
 "encoding": {
  "x": {"field": "t", "type": "quantitative", "axis": {"orient": "top", "labels": false, "title": null, "grid": false, "values": [0,10,20,30,40,50,60,70,80]}},
  "y": {"field": "a", "type": "quantitative", "axis": {"orient": "right", "labels": false, "title": null, "grid": false, "values": [0, 10, 20, 30, 40]}}
 }}
],
"resolve": {"axis": {"x": "independent", "y": "independent"}}
}
],
"config": {
 "font": "Liberation Sans",
 "view": {"stroke": "#262626", "strokeWidth": 3},
 "axis": {"labelFont": "Liberation Sans", "labelFontSize": 52, "labelColor": "#262626", "titleFont": "Liberation Sans", "titleFontSize": 58, "titleFontWeight": "normal", "titleColor": "#262626", "domain": false, "tickSize": -20, "tickColor": "#262626", "tickWidth": 3, "gridColor": "#dfdfdf", "gridWidth": 2, "gridOpacity": 1, "labelOverlap": false},
 "title": {"font": "Liberation Sans", "fontSize": 58, "fontWeight": "bold", "color": "#000000", "anchor": "middle", "baseline": "alphabetic"},
 "legend": {"labelFont": "Liberation Sans", "labelFontSize": 48, "labelColor": "#000000", "labelLimit": 3000, "symbolType": "M-1,0L5,0", "symbolSize": 3481, "symbolStrokeWidth": 3, "labelOffset": 132, "padding": 20, "rowPadding": 27, "strokeColor": "#262626", "fillColor": "#ffffff"}
}
}
